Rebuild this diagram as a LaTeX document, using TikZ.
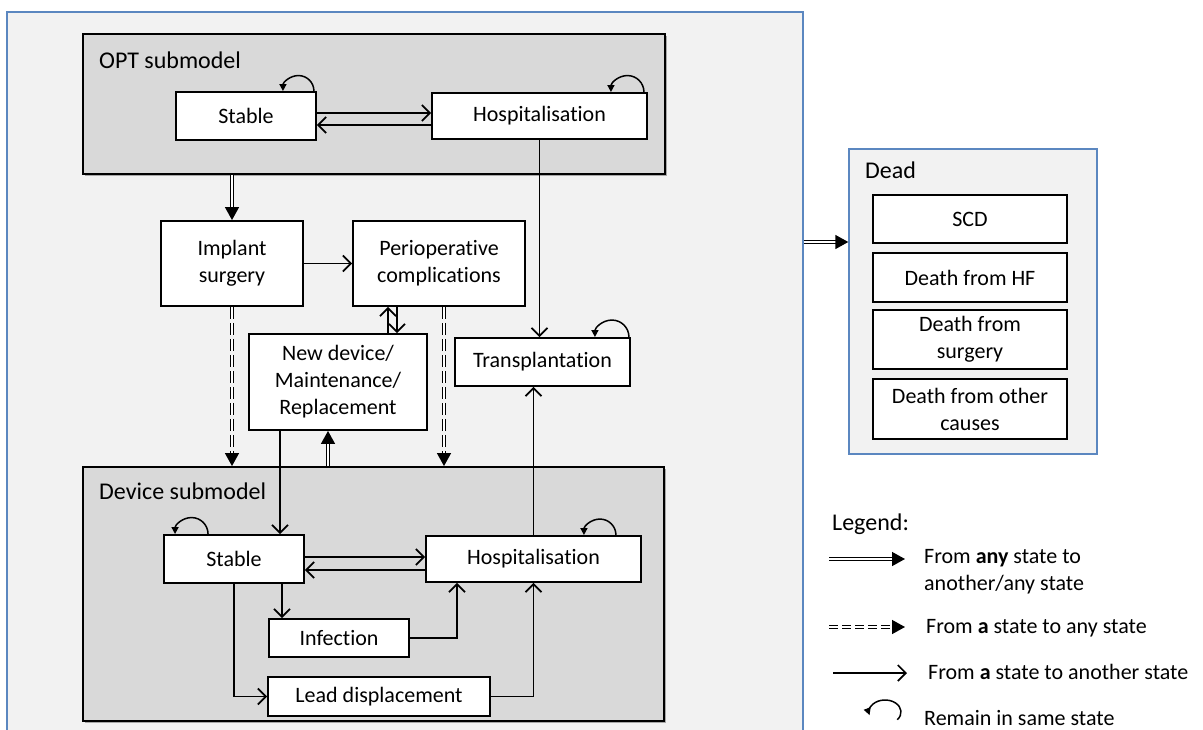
\documentclass[tikz,border=0pt]{standalone}
\usepackage{fontspec}
\setmainfont{Carlito}[Ligatures=NoCommon]
\usetikzlibrary{arrows.meta,shadows,calc}
\definecolor{framefill}{HTML}{F2F2F2}
\definecolor{frameblue}{HTML}{5B87C0}
\definecolor{subfill}{HTML}{D9D9D9}
\begin{document}
\begin{tikzpicture}[x=1pt,y=1pt,
  box/.style={draw, fill=white, line width=1.9pt, inner sep=0pt, align=center, font=\fontsize{22}{27}\selectfont},
  sub/.style={draw, fill=subfill, line width=1.9pt, inner sep=0pt, drop shadow={shadow xshift=2pt, shadow yshift=-2pt, fill=black, opacity=0.3}},
  outer/.style={draw=frameblue, fill=framefill, line width=1.4pt, inner sep=0pt},
  arr/.style={line width=1.7pt, -{Straight Barb[length=8pt,width=16pt,line width=1.7pt]}},
  dbl/.style={line width=1.4pt, double=white, double distance=2pt, -{Triangle[length=13pt,width=14pt]}},
  dsh/.style={dbl, dash pattern=on 12pt off 4pt},
  loopy/.style={line width=1.5pt, -{Triangle[length=7pt,width=7pt]}},
  title/.style={anchor=base west, inner sep=0pt, font=\fontsize{24}{28}\selectfont},
  ltext/.style={anchor=base west, inner sep=0pt, font=\fontsize{22}{27}\selectfont},
]
\useasboundingbox (0,0) rectangle (1203,-729);
\fill[white] (0,0) rectangle (1203,-729);

% containers
\node[outer, minimum width=796pt, minimum height=740pt] (frame) at (405,-382) {};
\node[outer, minimum width=248pt, minimum height=305pt] (dead) at (973,-301.5) {};
\node[sub, minimum width=582pt, minimum height=140pt] (opt) at (374,-104) {};
\node[sub, minimum width=581pt, minimum height=254pt] (dev) at (373.5,-594) {};

\node[title] (optt) at (99,-68) {OPT submodel};
\node[title] (devt) at (99,-499) {Device submodel};
\node[title] (deadt) at (865,-178) {Dead};

% OPT submodel states
\node[box, minimum width=140pt, minimum height=48pt] (s1) at (246,-116) {Stable};
\node[box, minimum width=215pt, minimum height=46pt] (h1) at (539.5,-116) {Hospitalisation};

% middle states
\node[box, minimum width=142pt, minimum height=85pt] (im) at (232,-263.5) {Implant\\surgery};
\node[box, minimum width=172pt, minimum height=85pt] (pc) at (439,-263.5) {Perioperative\\complications};
\node[box, minimum width=178pt, minimum height=96pt] (nd) at (338,-382) {New device/\\Maintenance/\\Replacement};
\node[box, minimum width=175pt, minimum height=48pt] (t) at (542.5,-362) {Transplantation};

% device submodel states
\node[box, minimum width=140pt, minimum height=48pt] (s2) at (234,-559) {Stable};
\node[box, minimum width=215pt, minimum height=46pt] (h2) at (533.5,-559) {Hospitalisation};
\node[box, minimum width=140pt, minimum height=38pt] (inf) at (339,-638) {Infection};
\node[box, minimum width=222pt, minimum height=39pt] (ld) at (379,-696.5) {Lead displacement};

% dead states
\node[box, minimum width=194pt, minimum height=48pt] (d1) at (970,-219) {SCD};
\node[box, minimum width=194pt, minimum height=49pt] (d2) at (970,-277.5) {Death from HF};
\node[box, minimum width=194pt, minimum height=59pt] (d3) at (970,-339.5) {Death from\\surgery};
\node[box, minimum width=194pt, minimum height=60pt] (d4) at (970,-409) {Death from other\\causes};

% OPT connectors
\draw[arr] ([yshift=3pt]s1.east) -- ([yshift=3pt]s1.east -| h1.west);
\draw[arr] ([yshift=-9pt]s1.east -| h1.west) -- ([yshift=-9pt]s1.east);
\draw[loopy] ([xshift=-3pt]s1.north east) arc[start angle=0, end angle=180, radius=15.5pt];
\draw[loopy] ([xshift=-4pt]h1.north east) arc[start angle=0, end angle=180, radius=16.5pt];
\draw[arr] (h1.south) -- (h1.south |- t.north);
\draw[dbl] (opt.south -| im.north) -- (im.north);

% middle connectors
\draw[arr] (im.east) -- (pc.west);
\draw[arr] ([xshift=50pt]nd.north) -- ([xshift=50pt]nd.north |- pc.south);
\draw[arr] ([xshift=-42pt]pc.south) -- ([xshift=-42pt]pc.south |- nd.north);
\draw[dsh] (im.south) -- (im.south |- dev.north);
\draw[dsh] ([xshift=5pt]pc.south) -- ([xshift=5pt]pc.south |- dev.north);
\draw[arr] ([xshift=-58pt]nd.south) -- ([xshift=-58pt]nd.south |- s2.north);
\draw[dbl] ([xshift=-10pt]nd.south |- dev.north) -- ([xshift=-10pt]nd.south);
\draw[loopy] ([xshift=-2pt]t.north east) arc[start angle=0, end angle=180, radius=17pt];
\draw[arr] (h2.north) -- (h2.north |- t.south);

% device connectors
\draw[arr] ([yshift=2pt]s2.east) -- ([yshift=2pt]s2.east -| h2.west);
\draw[arr] ([yshift=-11pt]s2.east -| h2.west) -- ([yshift=-11pt]s2.east);
\draw[loopy] ([xshift=45pt]s2.north west) arc[start angle=0, end angle=180, radius=16.5pt];
\draw[loopy] ([xshift=-26pt]h2.north east) arc[start angle=0, end angle=180, radius=16pt];
\draw[arr] ([xshift=48pt]s2.south) -- ([xshift=48pt]s2.south |- inf.north);
\draw[arr] (inf.east) -| ([xshift=-76.5pt]h2.south);
\draw[arr] (s2.south) |- (ld.west);
\draw[arr] (ld.east) -| (h2.south);

% to dead
\draw[dbl] (frame.east |- 0,-242) -- (dead.west |- 0,-242);

% legend
\node[title] (leg) at (832,-530) {Legend:};
\coordinate (la1) at (829,-559); \coordinate (lb1) at (905,-559);
\coordinate (la2) at (829,-627); \coordinate (lb2) at (905,-627);
\coordinate (la3) at (833,-673); \coordinate (lb3) at (907,-673);
\coordinate (lc4) at (885,-712);
\draw[dbl] (la1) -- (lb1);
\draw[dsh, dash pattern=on 9pt off 4pt] (la2) -- (lb2);
\draw[arr] (la3) -- (lb3);
\draw[loopy] ([shift={(-40:16pt and 12pt)}]lc4) arc[start angle=-40, end angle=195, x radius=16pt, y radius=12pt];
\node[ltext] (lt1) at (924,-563) {From \textbf{any} state to};
\node[ltext] (lt1b) at (924,-590) {another/any state};
\node[ltext] (lt2) at (926,-633) {From \textbf{a} state to any state};
\node[ltext] (lt3) at (928,-679) {From \textbf{a} state to another state};
\node[ltext] (lt4) at (924,-725) {Remain in same state};
\end{tikzpicture}
\end{document}
